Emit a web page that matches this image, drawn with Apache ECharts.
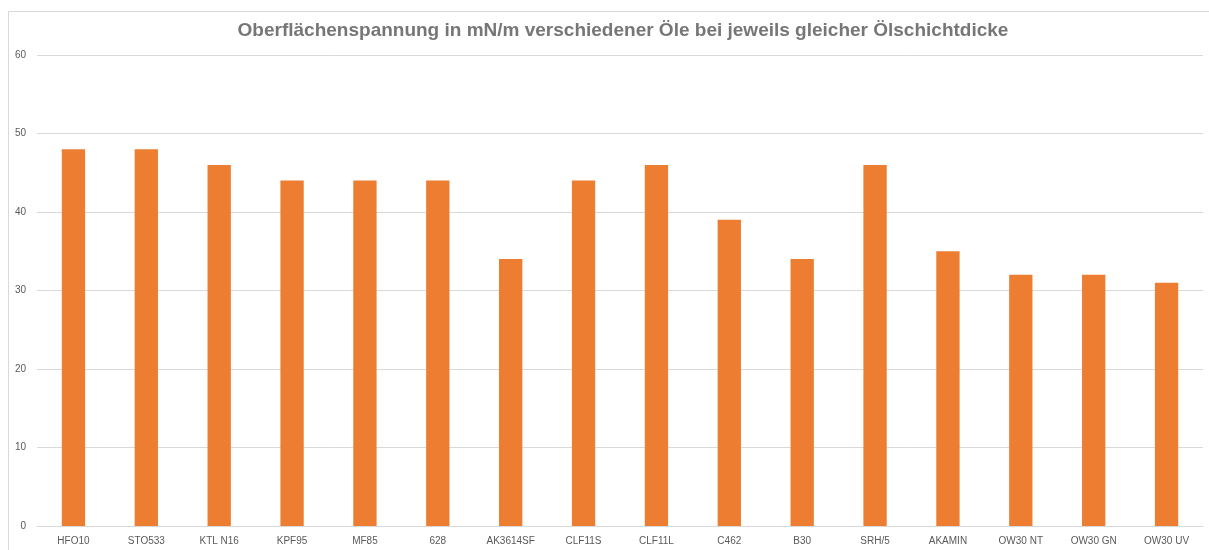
<!DOCTYPE html>
<html>
<head>
<meta charset="utf-8">
<script src="https://cdn.jsdelivr.net/npm/echarts@6/dist/echarts.min.js"></script>
<style>
  html, body { margin: 0; padding: 0; background: #fff; }
  #chart { width: 1209px; height: 550px; }
</style>
</head>
<body>
<div id="chart"></div>
<script>
var oils = ['HFO10', 'STO533', 'KTL N16', 'KPF95', 'MF85', '628', 'AK3614SF', 'CLF11S',
  'CLF11L', 'C462', 'B30', 'SRH/5', 'AKAMIN', 'OW30 NT', 'OW30 GN', 'OW30 UV'];
var tension = [48, 48, 46, 44, 44, 44, 34, 44, 46, 39, 34, 46, 35, 32, 32, 31];
var yTicks = [0, 10, 20, 30, 40, 50, 60];

var dom = document.getElementById('chart');
var myChart = echarts.init(dom);
var option = {
  animation: false,
  textStyle: {
    fontFamily: 'Liberation Sans'
  },
  title: {
    text: 'Oberflächenspannung in mN/m verschiedener Öle bei jeweils gleicher Ölschichtdicke',
    left: 618,
    top: 16,
    textAlign: 'center',
    textStyle: {
      fontSize: 19,
      fontWeight: 'bold',
      color: '#767676'
    }
  },
  graphic: [{
    type: 'rect',
    left: 6,
    top: 9,
    shape: { width: 1400, height: 700 },
    style: { fill: 'none', stroke: '#d9d9d9', lineWidth: 1 },
    silent: true,
    z: -1
  }],
  grid: {
    left: 37,
    right: 6,
    top: 55,
    bottom: 24,
    containLabel: false
  },
  xAxis: {
    type: 'category',
    data: oils,
    axisLine: { lineStyle: { color: '#d9d9d9' } },
    axisTick: { show: false },
    axisLabel: { color: '#595959', fontSize: 10, margin: 10, interval: 0 }
  },
  yAxis: {
    type: 'value',
    min: yTicks[0],
    max: yTicks[yTicks.length - 1],
    interval: 10,
    axisLine: { show: false },
    axisTick: { show: false },
    axisLabel: { color: '#595959', fontSize: 10, margin: 11 },
    splitLine: { lineStyle: { color: '#d9d9d9' } }
  },
  series: [{
    name: 'Oberflächenspannung',
    type: 'bar',
    data: tension,
    barWidth: '32%',
    itemStyle: { color: '#ed7d31' }
  }]
};
myChart.setOption(option, true);
</script>
</body>
</html>
